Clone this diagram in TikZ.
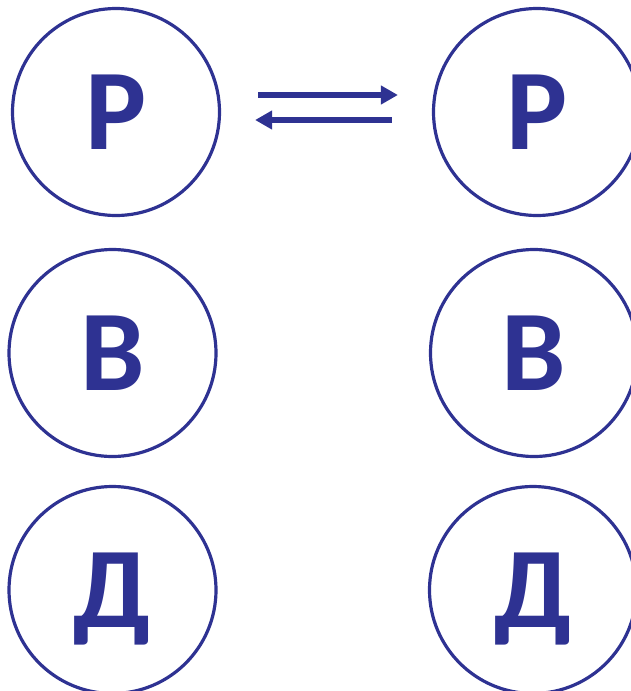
\documentclass[tikz,border=0pt]{standalone}
\usepackage{fontspec}
\setmainfont{Carlito}
\usetikzlibrary{arrows.meta,positioning}
\definecolor{letterblue}{RGB}{46,50,146}

\begin{document}
\begin{tikzpicture}[x=1pt,y=-1pt,
    ring/.style={circle,draw=letterblue,line width=3.2pt,minimum size=207pt,inner sep=0pt,
      text=letterblue,font=\fontsize{115}{115}\selectfont\bfseries,
      text height=74pt,text depth=0pt},
    swap/.style={letterblue,line width=6pt,-{Triangle[length=17pt,width=18pt]}}]
  \useasboundingbox (0,0) rectangle (631,691);
  % left column
  \node[ring] (pl) at (116,112) {Р};
  \node[ring] (bl) at (112.5,353) {В};
  \node[ring] (dl) at (112.5,590) {Д};
  % right column
  \node[ring] (pr) at (537,112) {Р};
  \node[ring] (br) at (534,353) {В};
  \node[ring] (dr) at (533,590) {Д};
  % exchange arrows
  \draw[swap,shorten <=37pt,shorten >=34pt] ([yshift=17pt]pl.east) -- ([yshift=17pt]pr.west);
  \draw[swap,shorten <=40pt,shorten >=34pt] ([yshift=-8pt]pr.west) -- ([yshift=-8pt]pl.east);
\end{tikzpicture}
\end{document}
